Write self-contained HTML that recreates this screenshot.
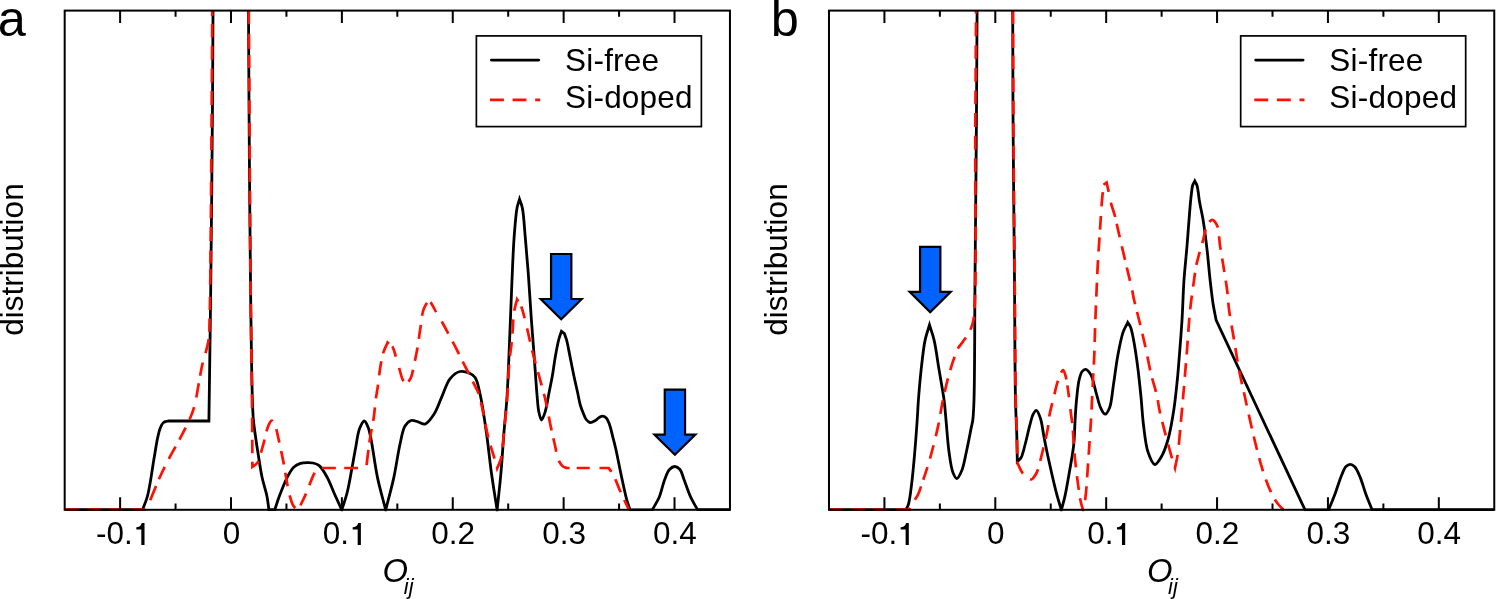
<!DOCTYPE html>
<html><head><meta charset="utf-8"><style>
html,body{margin:0;padding:0;background:#fff;}
svg{display:block;}
text{-webkit-font-smoothing:antialiased;}
svg{will-change:transform;}
text{font-family:"Liberation Sans",sans-serif;fill:#000;}
.t{font-size:31.5px;}
.it{font-style:italic;}
.lg{letter-spacing:0.22px;}
.sub{font-size:21.8px;}
.ox{font-size:32.8px;}
.big{font-size:50.5px;}
</style></head><body>
<svg width="1496" height="599" viewBox="0 0 1496 599">
<rect width="1496" height="599" fill="#fff"/>
<clipPath id="clipa"><rect x="64.68" y="10.60" width="665.28" height="500.70"/></clipPath>
<g clip-path="url(#clipa)" fill="none" stroke-linejoin="miter" stroke-miterlimit="8">
<path d="M64.70,509.70 L142.50,509.70 C144.17,505.13 145.95,501.80 147.50,496.00 C150.04,486.51 152.34,468.27 154.20,457.60 C155.53,449.98 156.40,443.42 157.60,438.00 C158.47,434.09 159.14,430.78 160.30,428.00 C161.21,425.82 162.07,423.66 163.50,422.50 C164.73,421.50 166.50,421.50 168.00,421.00 L208.90,421.00 C209.47,380.67 210.06,345.12 210.60,300.00 C211.28,242.72 212.06,164.04 212.50,105.00 C212.87,55.88 212.97,15.00 213.20,-30.00 L248.20,-30.00 C248.30,-16.33 248.40,-5.46 248.50,11.00 C248.66,35.93 248.74,68.01 249.00,105.00 C249.37,158.27 250.00,245.75 250.70,300.00 C251.20,338.85 251.71,379.40 252.40,400.00 C252.71,409.22 252.80,413.35 253.40,420.00 C254.00,426.68 255.08,433.56 256.00,440.00 C256.86,446.03 257.72,451.48 258.70,457.50 C259.75,463.95 260.71,470.99 262.10,477.50 C263.45,483.82 265.74,490.27 266.90,496.00 C267.89,500.88 268.23,505.13 268.90,509.70 L274.80,509.70 C276.33,505.13 277.54,500.91 279.40,496.00 C281.63,490.10 284.75,482.01 287.50,476.80 C289.54,472.95 291.26,469.49 293.70,467.20 C295.71,465.31 298.14,464.16 300.50,463.40 C302.75,462.68 305.31,462.65 307.50,462.60 C309.44,462.56 311.15,462.56 313.00,463.00 C315.04,463.49 317.24,464.01 319.20,465.60 C321.98,467.86 324.52,472.54 326.90,476.80 C329.70,481.81 331.98,488.38 334.50,494.00 C336.94,499.44 339.37,504.67 341.80,510.00 C343.63,504.00 345.70,498.41 347.30,492.00 C349.09,484.85 350.39,476.50 351.80,469.00 C353.15,461.85 354.29,454.84 355.60,448.00 C356.86,441.45 357.58,433.66 359.50,428.80 C360.81,425.48 362.80,421.00 364.30,421.00 C365.61,421.00 366.97,424.56 368.00,427.00 C369.36,430.23 369.92,433.84 371.00,439.00 C372.92,448.19 374.92,465.35 377.50,477.60 C379.88,488.92 382.97,499.20 385.70,510.00 C388.40,499.20 391.42,488.52 393.80,477.60 C396.20,466.59 397.83,453.60 400.00,444.20 C401.61,437.21 402.49,430.20 405.00,426.10 C406.66,423.38 408.82,421.15 411.10,420.50 C413.19,419.90 415.70,421.21 418.00,421.80 C420.37,422.40 422.79,424.72 425.10,424.10 C428.20,423.27 431.46,418.17 434.10,414.10 C437.29,409.18 439.43,402.03 442.10,396.10 C444.73,390.27 446.54,383.04 450.00,378.80 C452.79,375.38 456.57,372.32 460.00,371.50 C462.96,370.80 466.50,371.89 469.10,373.00 C471.45,374.00 473.46,375.15 475.10,377.50 C477.60,381.09 478.54,387.46 480.10,394.20 C482.40,404.17 484.44,418.92 486.30,431.80 C488.26,445.32 489.63,460.08 491.50,473.50 C493.25,486.08 495.23,497.83 497.10,510.00 C498.37,497.83 499.78,486.08 500.90,473.50 C502.10,460.07 502.93,445.07 504.00,431.80 C504.97,419.67 506.14,410.03 507.00,397.00 C508.10,380.36 508.78,359.33 509.60,340.10 C510.45,320.34 511.18,298.29 512.00,280.00 C512.69,264.64 513.14,250.50 514.10,237.60 C514.91,226.73 515.78,214.45 517.10,207.60 C517.81,203.93 518.70,202.07 519.50,199.30 C520.43,202.07 521.50,203.91 522.30,207.60 C523.78,214.44 524.34,227.13 525.30,237.60 C526.35,249.07 527.34,260.91 528.30,273.70 C529.39,288.17 530.36,305.46 531.40,320.00 C532.33,332.95 533.28,344.47 534.20,356.70 C535.12,368.93 536.00,383.28 536.90,393.40 C537.53,400.56 537.77,406.83 538.80,411.70 C539.51,415.05 540.45,419.94 541.50,420.00 C542.57,420.06 544.12,415.08 545.20,411.70 C546.75,406.86 547.68,399.51 548.90,393.40 C550.12,387.28 551.43,381.14 552.50,375.00 C553.56,368.90 554.23,362.74 555.30,356.70 C556.36,350.74 557.64,343.66 558.90,339.00 C559.74,335.87 560.63,333.87 561.50,331.30 L564.40,333.60 C565.13,335.73 565.87,337.34 566.60,340.00 C567.75,344.19 568.84,350.80 570.00,356.50 C571.24,362.61 572.50,369.35 573.80,375.50 C575.03,381.33 576.45,387.27 577.60,392.50 C578.59,396.98 579.28,401.42 580.30,405.00 C581.09,407.79 581.92,409.90 582.90,412.30 C583.89,414.73 584.81,417.73 586.20,419.50 C587.29,420.88 588.55,422.27 590.00,422.50 C591.58,422.75 593.79,421.40 595.40,420.50 C596.93,419.64 598.13,418.03 599.50,417.30 C600.63,416.70 601.77,416.09 602.90,416.20 C604.11,416.32 605.49,417.12 606.50,418.20 C607.82,419.60 608.57,421.98 609.50,424.50 C610.77,427.97 611.83,433.12 612.90,437.30 C613.92,441.28 614.74,444.33 615.80,449.00 C617.36,455.89 619.27,466.21 621.10,474.70 C622.90,483.07 624.91,493.14 626.70,499.60 C627.87,503.81 628.97,506.47 630.10,509.90 L652.40,509.70 C654.67,505.53 657.23,501.85 659.20,497.20 C661.46,491.84 662.82,484.22 664.80,479.20 C666.30,475.41 667.47,471.64 669.50,469.50 C671.04,467.88 673.13,466.48 674.90,466.50 C676.63,466.52 678.61,467.89 680.00,469.50 C681.85,471.65 682.44,475.46 683.90,479.20 C685.88,484.27 688.23,491.82 690.70,497.20 C692.82,501.83 695.23,505.53 697.50,509.70 L735.00,509.70" stroke="#000" stroke-width="2.8"/>
<path d="M64.70,509.70 L146.00,509.70 C147.47,506.40 148.68,503.80 150.40,499.80 C153.01,493.74 156.69,484.07 160.00,476.80 C163.07,470.06 166.17,463.96 169.50,457.60 C172.87,451.16 176.72,444.83 180.10,438.40 C183.45,432.03 187.18,425.10 189.70,419.20 C191.75,414.40 193.13,410.81 194.50,405.80 C196.17,399.68 197.22,391.78 198.50,385.00 C199.72,378.53 200.51,372.80 202.00,366.00 C203.75,357.98 207.37,348.16 208.60,340.00 C209.66,332.95 209.29,330.22 209.60,320.00 C210.60,286.51 211.20,168.37 211.70,105.00 C212.09,54.79 212.23,15.00 212.50,-30.00 L248.40,-30.00 C248.53,-16.33 248.67,-5.46 248.80,11.00 C249.00,35.93 249.16,68.01 249.40,105.00 C249.75,158.27 250.17,245.75 250.70,300.00 C251.08,338.85 251.72,370.02 252.00,400.00 C252.23,424.50 252.27,444.53 252.40,466.80 C254.07,465.47 256.08,464.65 257.40,462.80 C259.04,460.50 259.64,456.82 260.70,453.50 C261.89,449.75 263.07,445.32 264.10,441.40 C265.06,437.73 265.72,433.90 266.70,430.70 C267.52,428.01 268.40,425.23 269.40,423.40 C270.09,422.15 270.84,420.51 271.60,420.50 C272.38,420.49 273.30,422.30 274.00,423.50 C274.85,424.95 275.43,426.60 276.10,428.70 C277.07,431.73 277.93,436.25 278.80,440.10 C279.69,444.04 280.54,447.99 281.40,452.10 C282.31,456.44 283.30,461.15 284.10,465.50 C284.86,469.60 285.32,473.16 286.10,477.50 C287.03,482.66 288.02,489.34 289.40,494.40 C290.57,498.68 291.86,503.45 293.50,506.00 C294.50,507.56 295.70,508.13 296.80,509.20 C297.90,508.03 299.06,507.19 300.10,505.70 C301.50,503.71 302.77,500.61 304.00,498.00 C305.24,495.38 306.36,492.76 307.50,490.00 C308.70,487.10 309.77,483.94 311.00,481.00 C312.21,478.11 313.25,474.78 314.80,472.50 C316.07,470.63 317.73,469.50 319.20,468.00 L366.20,468.00 C367.47,458.13 368.61,447.43 370.00,438.40 C371.18,430.73 372.81,423.99 373.80,417.20 C374.70,410.97 375.08,404.60 375.80,399.20 C376.39,394.76 377.13,391.13 377.70,387.10 C378.26,383.10 378.65,379.11 379.20,375.10 C379.75,371.07 380.29,366.87 381.00,363.00 C381.67,359.39 382.21,355.99 383.30,352.60 C384.40,349.16 386.17,345.87 387.60,342.50 C389.17,343.83 391.01,344.60 392.30,346.50 C394.08,349.12 394.92,353.88 396.10,357.60 C397.28,361.31 398.27,365.07 399.40,368.80 C400.53,372.54 401.27,377.34 402.90,380.00 C404.04,381.86 405.63,382.67 407.00,384.00 C408.37,381.77 410.05,379.81 411.10,377.30 C412.26,374.53 412.67,371.20 413.40,368.00 C414.17,364.61 414.87,361.12 415.60,357.50 C416.37,353.64 417.19,349.76 417.90,345.50 C418.70,340.67 419.19,335.61 420.10,330.00 C421.18,323.30 421.88,312.99 424.10,308.00 C425.44,304.98 427.34,301.44 429.10,301.50 C431.29,301.58 434.00,308.80 436.10,312.10 C437.91,314.94 439.27,317.08 441.00,320.10 C443.18,323.88 445.67,328.77 448.00,333.10 C450.33,337.43 452.70,341.66 455.00,346.10 C457.37,350.69 459.74,355.69 462.00,360.20 C464.09,364.37 466.08,368.20 468.10,372.20 C470.11,376.20 472.30,380.60 474.10,384.20 C475.57,387.14 476.98,389.31 478.10,392.20 C479.32,395.36 479.90,398.01 481.00,402.50 C483.02,410.76 485.82,427.77 488.40,438.00 C490.40,445.93 493.02,453.30 494.60,458.90 C495.65,462.64 496.27,465.17 497.10,468.30 C498.37,465.17 499.87,462.93 500.90,458.90 C502.58,452.29 503.02,441.20 504.00,431.80 C505.06,421.63 506.12,411.21 507.00,400.00 C507.98,387.44 508.53,370.32 509.50,360.00 C510.11,353.45 510.96,349.16 511.50,344.00 C512.01,339.18 512.31,334.96 512.70,330.00 C513.14,324.38 513.16,317.42 514.00,312.00 C514.71,307.42 516.00,303.67 517.00,299.50 C518.33,301.67 519.74,303.09 521.00,306.00 C523.14,310.95 524.96,319.98 526.80,327.30 C528.74,335.02 530.30,343.26 532.30,351.20 C534.30,359.16 536.65,367.06 538.80,375.00 C540.95,382.96 543.27,390.62 545.20,398.90 C547.26,407.71 548.99,418.37 550.70,426.40 C552.04,432.70 553.15,437.51 554.50,443.20 C555.91,449.10 557.04,457.11 559.00,461.20 C560.17,463.65 561.48,465.37 563.00,466.50 C564.22,467.41 565.67,467.50 567.00,468.00 L608.70,468.00 C610.20,470.23 611.69,471.91 613.20,474.70 C615.41,478.77 617.44,484.99 619.90,490.50 C622.65,496.66 625.97,503.43 629.00,509.90" stroke="#ff1000" stroke-width="2.7" stroke-dasharray="0.00 0.31 13.90 8.70 13.90 7.90 13.41 8.92 13.73 10.93 15.17 7.30 13.82 9.05 14.07 7.84 13.48 8.80 13.70 9.76 14.43 7.71 13.62 9.60 14.28 7.49 13.39 8.38 13.39 12.06 15.65 5.40 12.94 9.67 13.91 8.71 13.91 8.71 13.91 8.71 13.91 8.71 13.91 8.71 13.91 8.71 13.91 8.71 13.91 8.71 13.91 8.30 13.66 8.07 13.36 10.93 14.94 9.35 14.94 9.35 14.94 9.35 14.94 9.35 14.94 9.35 14.94 6.25 13.04 9.56 13.90 8.70 13.90 8.70 13.90 8.70 13.90 8.70 13.90 8.70 13.90 8.70 13.90 8.70 13.90 8.70 13.90 8.70 13.90 8.70 13.90 8.70 13.90 8.70 13.90 8.70 13.90 8.70 13.90 9.76 14.55 7.51 13.57 8.49 13.57 8.49 13.57 8.49 13.57 8.71 13.70 8.56 13.69 8.57 13.69 9.19 14.07 7.16 13.06 9.00 13.57 9.20 14.00 8.39 13.77 11.06 15.27 7.38 13.93 8.17 13.59 9.09 13.95 9.34 14.32 7.94 13.69 4.18 10.99 11.66 13.93 7.17 12.98 9.17 13.62 8.93 13.87 9.05 14.10 4.20 11.25 11.04 13.71 9.01 13.98 8.38 13.75 8.61 13.75 8.61 13.75 8.54 13.71 8.38 13.58 9.26 14.05 8.79 14.05 8.79 14.05 8.79 14.05 8.79 14.05 8.79 14.05 8.79 14.05 8.78 14.04 5.78 12.19 10.35 13.86 8.68 13.86 8.68 13.86 8.68 13.86 9.25 14.21 8.19 13.78 9.24 14.16 7.05 13.04 9.75 14.02 8.56 13.89 8.52 11.59 50.00"/>
</g>
<path d="M120.12,509.80 V497.30 M120.12,10.60 V23.10 M175.56,509.80 V503.60 M175.56,10.60 V16.80 M231.00,509.80 V497.30 M231.00,10.60 V23.10 M286.44,509.80 V503.60 M286.44,10.60 V16.80 M341.88,509.80 V497.30 M341.88,10.60 V23.10 M397.32,509.80 V503.60 M397.32,10.60 V16.80 M452.76,509.80 V497.30 M452.76,10.60 V23.10 M508.20,509.80 V503.60 M508.20,10.60 V16.80 M563.64,509.80 V497.30 M563.64,10.60 V23.10 M619.08,509.80 V503.60 M619.08,10.60 V16.80 M674.52,509.80 V497.30 M674.52,10.60 V23.10" stroke="#000" stroke-width="2" fill="none"/>
<rect x="64.68" y="10.60" width="665.28" height="499.20" fill="none" stroke="#000" stroke-width="2"/>
<text x="231.40" y="544" text-anchor="middle" class="t">0</text>
<text x="453.16" y="544" text-anchor="middle" class="t">0.2</text>
<text x="564.04" y="544" text-anchor="middle" class="t">0.3</text>
<text x="674.92" y="544" text-anchor="middle" class="t">0.4</text>
<text x="96.12" y="544" class="t">-0.</text>
<path d="M144.52,523.00 L144.52,544.90 L141.32,544.90 L141.32,529.60 L136.32,529.60 L136.32,527.20 C138.82,527.00 141.12,526.00 141.82,523.00 Z" fill="#000"/>
<text x="322.85" y="544" class="t">0.</text>
<path d="M360.88,523.00 L360.88,544.90 L357.68,544.90 L357.68,529.60 L352.68,529.60 L352.68,527.20 C355.18,527.00 357.48,526.00 358.18,523.00 Z" fill="#000"/>
<text x="382.60" y="581.6" class="ox it">O</text><text x="403.80" y="593.8" class="sub it">ij</text>
<text transform="translate(23.08,259.5) rotate(-90)" text-anchor="middle" class="t">distribution</text>
<text x="-2.30" y="35.60" class="big">a</text>
<rect x="476.38" y="35.9" width="225" height="90.7" fill="#fff" stroke="#000" stroke-width="1.7"/>
<path d="M491.38,60.1 H538.78" stroke="#000" stroke-width="2.8" stroke-linecap="round"/>
<path d="M489.98,99.9 H540.18" stroke="#ff1000" stroke-width="2.7" stroke-dasharray="13.9 8.7"/>
<text x="564.98" y="71.2" class="t lg">Si-free</text>
<text x="564.98" y="107.7" class="t lg">Si-doped</text>
<path d="M551.05,254.00 L571.35,254.00 L571.35,299.00 L581.70,299.00 L561.20,319.20 L540.70,299.00 L551.05,299.00 Z" fill="#0062ff" stroke="#000" stroke-width="2.2" stroke-linejoin="miter"/>
<path d="M664.75,389.60 L685.05,389.60 L685.05,434.60 L695.40,434.60 L674.90,454.80 L654.40,434.60 L664.75,434.60 Z" fill="#0062ff" stroke="#000" stroke-width="2.2" stroke-linejoin="miter"/>
<clipPath id="clipb"><rect x="828.98" y="10.60" width="665.28" height="500.70"/></clipPath>
<g clip-path="url(#clipb)" fill="none" stroke-linejoin="miter" stroke-miterlimit="8">
<path d="M829.00,509.70 L906.00,509.70 C906.83,507.83 907.76,506.62 908.50,504.10 C909.87,499.45 910.74,491.12 911.70,483.50 C912.89,474.06 913.88,462.30 914.80,451.70 C915.72,441.13 916.56,429.33 917.20,420.00 C917.70,412.63 917.85,407.48 918.40,400.20 C919.08,391.21 919.98,380.11 921.10,370.10 C922.22,360.08 923.36,348.35 925.10,340.10 C926.35,334.16 928.03,330.03 929.50,325.00 C931.03,330.03 932.71,334.16 934.10,340.10 C936.04,348.35 937.43,360.09 939.10,370.10 C940.77,380.12 942.92,391.20 944.10,400.20 C945.05,407.47 945.30,412.63 946.00,420.00 C946.89,429.33 947.67,442.28 949.00,451.70 C950.08,459.36 950.99,467.67 952.90,472.40 C954.02,475.18 955.52,478.52 956.90,478.50 C958.44,478.48 960.32,474.08 961.70,470.80 C963.74,465.97 964.89,458.43 966.40,451.70 C968.07,444.22 970.03,433.70 971.20,427.90 C971.88,424.56 972.38,423.25 972.80,420.00 C973.47,414.87 973.68,409.47 974.00,400.00 C974.79,376.81 974.63,322.56 975.00,280.00 C975.42,231.63 976.02,176.67 976.40,125.00 C976.78,73.33 977.00,21.67 977.30,-30.00 L1012.60,-30.00 C1012.63,-16.33 1012.65,-6.09 1012.70,11.00 C1012.78,39.49 1012.84,84.09 1013.10,125.00 C1013.40,172.71 1014.08,231.63 1014.50,280.00 C1014.87,322.56 1014.86,371.92 1015.50,400.00 C1015.84,415.19 1016.50,424.23 1016.80,435.10 C1017.06,444.52 1017.13,452.70 1017.30,461.50 C1018.53,460.27 1019.92,459.60 1021.00,457.80 C1022.77,454.87 1023.76,449.34 1025.10,444.50 C1026.68,438.80 1028.22,431.17 1029.70,425.70 C1030.86,421.41 1031.65,417.03 1033.10,414.30 C1034.06,412.50 1035.34,410.18 1036.40,410.30 C1037.80,410.46 1039.25,414.91 1040.40,418.30 C1042.17,423.52 1042.99,432.02 1044.40,439.10 C1045.88,446.51 1047.28,453.58 1049.10,461.80 C1051.27,471.63 1054.35,485.25 1056.70,494.10 C1058.36,500.36 1059.83,504.70 1061.40,510.00 C1062.57,505.47 1063.77,501.51 1064.90,496.40 C1066.33,489.92 1067.63,482.11 1069.00,474.20 C1070.57,465.14 1072.69,454.38 1073.70,445.00 C1074.63,436.37 1074.60,427.85 1075.10,420.00 C1075.54,413.01 1075.84,406.82 1076.50,400.20 C1077.17,393.49 1077.85,385.25 1079.10,380.00 C1079.93,376.51 1080.67,373.29 1082.10,371.50 C1083.07,370.29 1084.38,369.16 1085.60,369.30 C1087.24,369.49 1089.31,372.06 1090.80,374.60 C1093.17,378.64 1094.40,386.86 1096.10,392.60 C1097.66,397.86 1098.74,403.82 1100.60,407.70 C1101.92,410.45 1103.60,414.20 1105.10,414.20 C1106.60,414.20 1108.38,410.70 1109.60,407.70 C1111.68,402.59 1112.12,393.18 1113.40,385.10 C1114.88,375.79 1116.15,364.32 1117.90,355.00 C1119.44,346.81 1121.04,338.01 1123.10,332.10 C1124.49,328.12 1126.17,325.70 1127.70,322.50 C1128.63,324.00 1129.71,325.13 1130.50,327.00 C1131.61,329.61 1132.24,333.43 1133.00,337.00 C1133.86,341.04 1134.54,345.18 1135.30,350.00 C1136.24,355.99 1137.20,362.91 1138.10,370.20 C1139.15,378.77 1140.19,388.96 1141.10,398.20 C1141.99,407.23 1142.36,416.07 1143.50,425.00 C1144.65,434.01 1145.54,444.87 1148.00,452.00 C1149.77,457.14 1152.35,464.26 1154.80,464.50 C1156.90,464.71 1159.51,459.91 1161.50,456.50 C1164.21,451.87 1166.37,445.32 1168.30,438.50 C1170.69,430.03 1172.40,419.07 1173.90,409.30 C1175.40,399.57 1176.41,388.82 1177.30,380.00 C1178.03,372.76 1178.38,367.95 1179.00,360.20 C1179.89,349.17 1181.17,333.47 1182.00,320.10 C1182.83,306.74 1183.11,292.79 1184.00,280.00 C1184.81,268.24 1186.13,256.74 1187.00,246.20 C1187.77,236.94 1188.37,228.01 1189.00,220.10 C1189.53,213.52 1190.00,207.14 1190.50,202.00 C1190.87,198.17 1191.21,194.97 1191.60,192.00 C1191.92,189.60 1192.00,187.43 1192.60,185.50 C1193.13,183.82 1194.07,182.50 1194.80,181.00 C1195.53,182.50 1196.45,183.82 1197.00,185.50 C1197.64,187.43 1197.83,189.65 1198.20,192.00 C1198.64,194.75 1198.82,197.45 1199.40,201.00 C1200.25,206.19 1201.94,212.99 1203.10,220.10 C1204.55,228.98 1205.93,240.18 1207.10,250.20 C1208.26,260.15 1209.04,270.61 1210.10,280.00 C1211.05,288.44 1211.98,296.81 1213.10,304.00 C1214.02,309.92 1215.10,314.73 1216.10,320.10 L1305.00,509.90 L1328.70,509.70 C1330.87,504.27 1333.09,499.02 1335.20,493.40 C1337.43,487.47 1339.60,479.91 1341.70,475.00 C1343.17,471.57 1344.24,468.28 1346.00,466.50 C1347.24,465.24 1348.78,464.28 1350.20,464.30 C1351.68,464.32 1353.32,465.39 1354.70,466.80 C1356.77,468.92 1358.43,473.20 1360.10,477.10 C1362.13,481.84 1363.61,487.99 1365.60,493.40 C1367.61,498.86 1369.93,504.27 1372.10,509.70 L1500.00,509.70" stroke="#000" stroke-width="2.8"/>
<path d="M829.00,509.70 L909.30,509.70 C910.87,506.80 912.45,503.66 914.00,501.00 C915.35,498.68 916.70,497.30 918.00,494.60 C919.94,490.57 921.84,483.87 923.60,478.70 C925.26,473.82 926.73,469.62 928.30,464.40 C930.17,458.18 932.16,450.68 933.90,443.80 C935.63,436.95 937.31,429.95 938.70,423.20 C940.03,416.76 940.95,410.04 942.10,404.20 C943.09,399.17 943.99,395.02 945.10,390.20 C946.30,385.01 947.60,379.44 949.10,374.10 C950.60,368.74 952.44,362.78 954.10,358.10 C955.43,354.35 956.39,351.15 958.10,348.10 C959.75,345.17 962.16,342.97 964.10,340.10 C966.21,336.98 968.63,333.45 970.20,330.00 C971.68,326.74 972.51,325.55 973.40,320.00 C977.25,296.10 974.80,186.27 975.30,125.00 C975.74,70.37 975.97,21.67 976.30,-30.00 L1012.80,-30.00 C1012.87,-16.33 1012.93,-6.09 1013.00,11.00 C1013.12,39.49 1013.16,84.09 1013.40,125.00 C1013.68,172.71 1014.30,231.63 1014.70,280.00 C1015.06,322.56 1015.10,371.95 1015.70,400.00 C1016.02,415.15 1016.63,424.03 1016.90,435.00 C1017.14,444.72 1017.17,453.33 1017.30,462.50 C1018.37,464.83 1019.39,467.43 1020.50,469.50 C1021.44,471.25 1022.00,472.72 1023.40,474.20 C1025.21,476.11 1028.92,479.68 1031.00,479.50 C1032.65,479.35 1033.96,477.00 1035.10,475.40 C1036.32,473.70 1037.17,471.74 1038.00,469.50 C1039.00,466.80 1039.57,463.48 1040.40,460.20 C1041.33,456.53 1042.25,452.93 1043.30,448.50 C1044.67,442.71 1046.74,434.45 1047.80,428.40 C1048.66,423.50 1048.75,419.22 1049.50,415.00 C1050.18,411.16 1051.15,407.65 1052.00,404.10 C1052.82,400.69 1053.63,397.59 1054.50,394.10 C1055.45,390.28 1056.11,386.04 1057.50,382.10 C1058.94,378.01 1061.63,369.97 1063.10,370.00 C1064.13,370.02 1064.91,373.65 1065.60,376.00 C1066.51,379.09 1067.02,383.40 1067.60,387.10 C1068.18,390.77 1068.58,394.04 1069.10,398.10 C1069.74,403.13 1070.47,410.10 1071.10,415.00 C1071.59,418.77 1072.07,420.85 1072.50,425.00 C1073.20,431.75 1073.49,442.66 1074.30,451.70 C1075.14,461.08 1076.36,471.55 1077.50,480.30 C1078.48,487.77 1079.47,495.54 1080.60,501.00 C1081.36,504.64 1082.20,507.00 1083.00,510.00 C1083.80,505.93 1084.71,502.80 1085.40,497.80 C1086.47,490.00 1087.11,477.07 1087.80,467.60 C1088.42,459.20 1088.87,451.73 1089.40,443.80 C1089.93,435.87 1090.56,427.59 1091.00,420.00 C1091.41,413.05 1091.66,406.86 1092.00,400.00 C1092.36,392.74 1092.72,385.08 1093.10,377.60 C1093.48,370.08 1093.99,362.72 1094.30,355.00 C1094.63,346.90 1094.68,339.38 1095.00,330.10 C1095.40,318.32 1096.06,302.38 1096.60,290.00 C1097.06,279.33 1097.44,270.16 1098.00,260.20 C1098.57,250.19 1099.39,239.52 1100.00,230.10 C1100.54,221.76 1101.00,213.12 1101.50,206.50 C1101.87,201.67 1102.26,197.85 1102.60,194.00 C1102.89,190.70 1103.13,187.87 1103.40,184.80 L1106.60,182.50 C1107.40,186.07 1108.28,189.75 1109.00,193.20 C1109.67,196.40 1109.97,199.17 1110.80,202.50 C1111.80,206.50 1113.61,211.02 1114.80,215.50 C1116.05,220.20 1116.79,224.36 1118.10,230.10 C1119.99,238.34 1122.76,250.19 1125.10,260.20 C1127.43,270.16 1130.51,282.70 1132.10,290.00 C1133.02,294.21 1133.19,295.96 1134.10,300.00 C1135.52,306.31 1138.13,315.91 1140.10,324.10 C1142.14,332.59 1144.24,341.59 1146.10,350.10 C1147.89,358.28 1149.22,366.38 1151.10,374.20 C1152.91,381.73 1155.69,389.78 1157.10,396.20 C1158.18,401.10 1158.24,404.18 1159.30,409.30 C1160.84,416.71 1163.70,427.51 1166.00,436.30 C1168.21,444.73 1171.12,455.29 1172.80,461.00 C1173.70,464.06 1174.27,465.67 1175.00,468.00 C1175.90,463.43 1176.90,459.75 1177.70,454.30 C1178.87,446.39 1179.62,435.42 1180.60,425.00 C1181.72,413.11 1182.92,399.41 1184.00,386.80 C1185.05,374.45 1186.02,362.53 1187.00,350.10 C1188.02,337.27 1188.78,322.82 1190.00,311.00 C1191.02,301.15 1192.39,292.06 1193.50,284.00 C1194.40,277.45 1195.05,271.53 1196.10,266.20 C1196.97,261.78 1197.99,258.35 1199.10,254.20 C1200.31,249.68 1201.78,244.84 1203.10,240.10 C1204.44,235.28 1205.17,229.09 1207.10,225.50 C1208.47,222.96 1210.43,219.80 1212.10,219.80 C1213.77,219.80 1215.83,222.75 1217.10,225.50 C1219.20,230.06 1218.99,239.05 1220.10,246.20 C1221.30,253.91 1222.89,262.58 1224.10,270.20 C1225.20,277.11 1226.27,283.36 1227.10,290.00 C1227.94,296.66 1228.12,302.75 1229.10,310.10 C1230.30,319.12 1232.43,330.09 1234.10,340.10 C1235.77,350.12 1237.21,360.37 1239.10,370.20 C1240.93,379.73 1243.54,390.55 1245.20,398.20 C1246.35,403.51 1246.87,406.20 1248.10,411.70 C1250.04,420.40 1253.19,434.67 1255.90,445.30 C1258.37,455.01 1260.80,464.58 1263.60,473.00 C1266.02,480.27 1268.66,487.42 1271.40,493.00 C1273.52,497.31 1275.74,501.00 1278.00,504.00 C1279.79,506.38 1281.67,507.93 1283.50,509.90" stroke="#ff1000" stroke-width="2.7" stroke-dasharray="0.00 0.02 13.90 8.70 13.90 7.63 13.24 10.35 14.51 9.45 14.74 7.04 13.40 8.90 13.71 9.30 14.16 8.45 13.90 8.70 13.90 8.70 13.90 8.70 13.90 8.80 13.96 8.13 13.59 9.07 13.93 8.72 13.93 8.72 13.93 8.72 13.93 8.72 13.93 8.72 13.93 8.72 13.93 8.72 13.93 8.72 13.93 8.72 13.93 8.72 13.93 9.00 14.11 8.71 14.03 9.84 14.68 9.19 14.68 9.19 14.68 9.19 14.68 9.19 14.68 9.19 14.68 7.50 13.64 8.93 13.88 8.69 13.88 8.69 13.88 8.69 13.88 8.69 13.88 8.69 13.88 8.69 13.88 8.69 13.88 8.69 13.88 8.69 13.88 8.69 13.88 8.69 13.88 8.69 13.88 8.69 13.88 8.69 13.88 8.85 13.99 8.96 14.11 7.70 13.42 9.15 13.88 8.69 13.88 8.69 13.88 8.65 13.86 9.17 14.16 8.29 13.81 5.87 12.10 11.56 14.56 7.26 13.42 9.42 14.05 8.77 14.03 8.17 13.65 8.98 13.92 8.71 13.92 8.71 13.92 8.71 13.92 8.71 13.92 8.71 13.92 8.71 13.92 8.71 13.92 8.71 13.92 8.71 13.92 8.71 13.92 8.71 13.92 8.02 13.50 9.73 14.29 7.50 13.40 10.98 15.00 7.17 13.63 9.17 14.02 7.99 13.54 9.79 14.35 7.76 13.60 8.88 13.82 9.35 14.25 8.19 13.80 8.64 13.80 8.64 13.80 9.42 14.28 9.25 14.48 10.00 15.05 8.07 14.22 8.19 13.79 8.82 13.91 8.70 13.91 8.70 13.91 8.70 13.91 8.95 14.06 7.93 13.52 9.18 13.97 8.49 13.81 8.53 13.74 8.63 13.76 8.61 13.76 8.61 13.76 9.29 14.17 8.55 13.98 8.89 14.06 8.18 13.68 9.38 14.18 8.10 13.71 8.54 13.68 8.67 13.75 8.29 13.56 50.33"/>
</g>
<path d="M884.42,509.80 V497.30 M884.42,10.60 V23.10 M939.86,509.80 V503.60 M939.86,10.60 V16.80 M995.30,509.80 V497.30 M995.30,10.60 V23.10 M1050.74,509.80 V503.60 M1050.74,10.60 V16.80 M1106.18,509.80 V497.30 M1106.18,10.60 V23.10 M1161.62,509.80 V503.60 M1161.62,10.60 V16.80 M1217.06,509.80 V497.30 M1217.06,10.60 V23.10 M1272.50,509.80 V503.60 M1272.50,10.60 V16.80 M1327.94,509.80 V497.30 M1327.94,10.60 V23.10 M1383.38,509.80 V503.60 M1383.38,10.60 V16.80 M1438.82,509.80 V497.30 M1438.82,10.60 V23.10" stroke="#000" stroke-width="2" fill="none"/>
<rect x="828.98" y="10.60" width="665.28" height="499.20" fill="none" stroke="#000" stroke-width="2"/>
<text x="995.70" y="544" text-anchor="middle" class="t">0</text>
<text x="1217.46" y="544" text-anchor="middle" class="t">0.2</text>
<text x="1328.34" y="544" text-anchor="middle" class="t">0.3</text>
<text x="1439.22" y="544" text-anchor="middle" class="t">0.4</text>
<text x="860.42" y="544" class="t">-0.</text>
<path d="M908.82,523.00 L908.82,544.90 L905.62,544.90 L905.62,529.60 L900.62,529.60 L900.62,527.20 C903.12,527.00 905.42,526.00 906.12,523.00 Z" fill="#000"/>
<text x="1087.15" y="544" class="t">0.</text>
<path d="M1125.18,523.00 L1125.18,544.90 L1121.98,544.90 L1121.98,529.60 L1116.98,529.60 L1116.98,527.20 C1119.48,527.00 1121.78,526.00 1122.48,523.00 Z" fill="#000"/>
<text x="1146.90" y="581.6" class="ox it">O</text><text x="1168.10" y="593.8" class="sub it">ij</text>
<text transform="translate(787.38,259.5) rotate(-90)" text-anchor="middle" class="t">distribution</text>
<text x="770.80" y="36.00" class="big">b</text>
<rect x="1240.68" y="35.9" width="225" height="90.7" fill="#fff" stroke="#000" stroke-width="1.7"/>
<path d="M1255.68,60.1 H1303.08" stroke="#000" stroke-width="2.8" stroke-linecap="round"/>
<path d="M1254.28,99.9 H1304.48" stroke="#ff1000" stroke-width="2.7" stroke-dasharray="13.9 8.7"/>
<text x="1329.28" y="71.2" class="t lg">Si-free</text>
<text x="1329.28" y="107.7" class="t lg">Si-doped</text>
<path d="M920.05,246.90 L940.35,246.90 L940.35,291.90 L950.70,291.90 L930.20,312.10 L909.70,291.90 L920.05,291.90 Z" fill="#0062ff" stroke="#000" stroke-width="2.2" stroke-linejoin="miter"/>
</svg>
</body></html>
